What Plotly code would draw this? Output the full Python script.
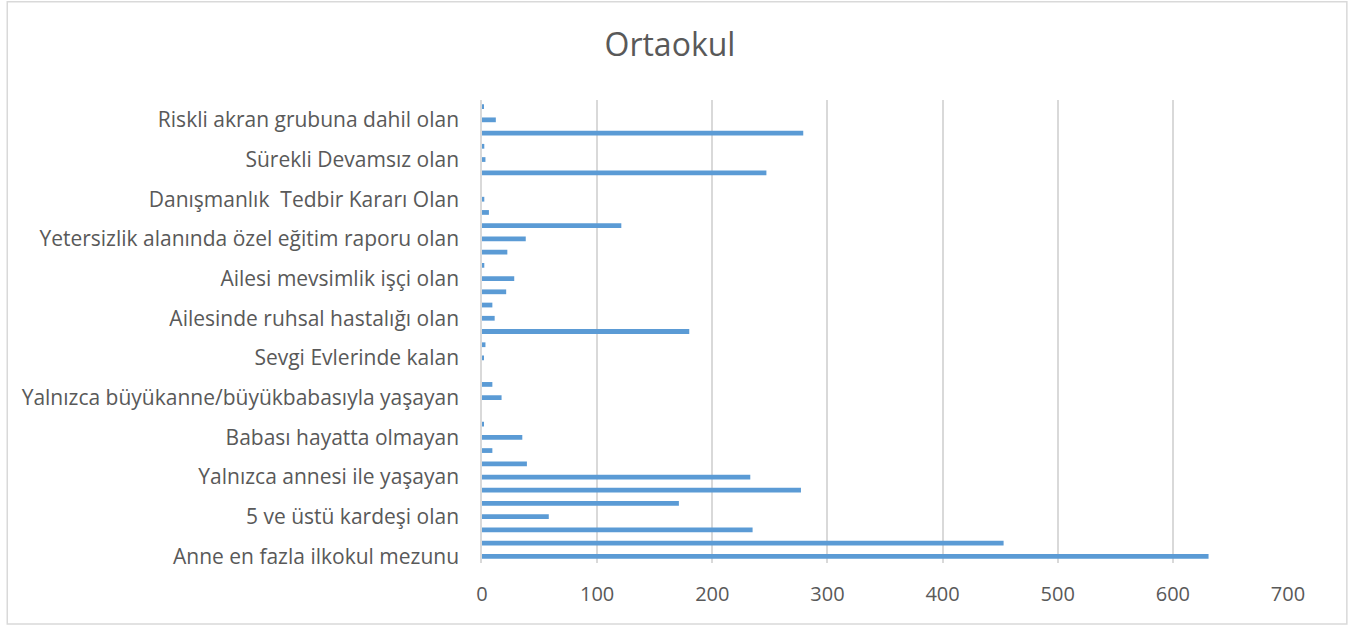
import numpy as np
import plotly.graph_objects as go

title = "Ortaokul"
# Only every third category label is shown in the reference
labels = [
    "Anne en fazla ilkokul mezunu",
    "5 ve üstü kardeşi olan",
    "Yalnızca annesi ile yaşayan",
    "Babası hayatta olmayan",
    "Yalnızca büyükanne/büyükbabasıyla yaşayan",
    "Sevgi Evlerinde kalan",
    "Ailesinde ruhsal hastalığı olan",
    "Ailesi mevsimlik işçi olan",
    "Yetersizlik alanında özel eğitim raporu olan",
    "Danışmanlık  Tedbir Kararı Olan",
    "Sürekli Devamsız olan",
    "Riskli akran grubuna dahil olan",
]
# values bottom -> top (35 categories)
values = [631, 453, 235, 58, 171, 277, 233, 39, 9, 35,
          1, 0, 17, 9, 0, 1, 3, 180, 11, 9,
          21, 28, 2, 22, 38, 121, 6, 2, 0, 247,
          3, 2, 279, 12, 1]
x_ticks = [0, 100, 200, 300, 400, 500, 600, 700]

pos = np.arange(len(values))
label_pos = pos[::3][:len(labels)]

fig = go.Figure(go.Bar(
    x=values, y=pos, orientation="h",
    marker=dict(color="#5B9BD5", line=dict(width=0)),
    width=0.36,
))

font_family = "'Open Sans', sans-serif"
fig.update_layout(
    width=1357, height=628,
    paper_bgcolor="white", plot_bgcolor="white",
    margin=dict(l=482, r=69, t=100, b=65),
    title=dict(text=title, x=0.4937, xanchor="center", y=0.928, yanchor="middle",
               font=dict(family=font_family, size=32, color="#595959")),
    font=dict(family=font_family, color="#595959"),
    showlegend=False,
)
fig.update_xaxes(
    range=[0, 700], tickvals=x_ticks, showgrid=True, gridcolor="#D9D9D9", gridwidth=1.5,
    zeroline=False, showline=False, ticks="", tickfont=dict(size=20, color="#595959"),
    ticklabelstandoff=17,
)
fig.update_yaxes(
    range=[-0.5, len(values) - 0.5], tickvals=label_pos, ticktext=labels,
    showgrid=False, zeroline=False, showline=True, linecolor="#D9D9D9", linewidth=1.5,
    ticks="", tickfont=dict(size=21, color="#595959"), ticklabelstandoff=17,
)
fig.add_shape(type="rect", xref="paper", yref="paper",
              x0=-0.589, x1=1.073, y0=-0.132, y1=1.212,
              line=dict(color="#D9D9D9", width=1.5), fillcolor="rgba(0,0,0,0)")

fig.write_html("out.html", config={"displayModeBar": False},
               post_script="document.body.style.margin='0';")
